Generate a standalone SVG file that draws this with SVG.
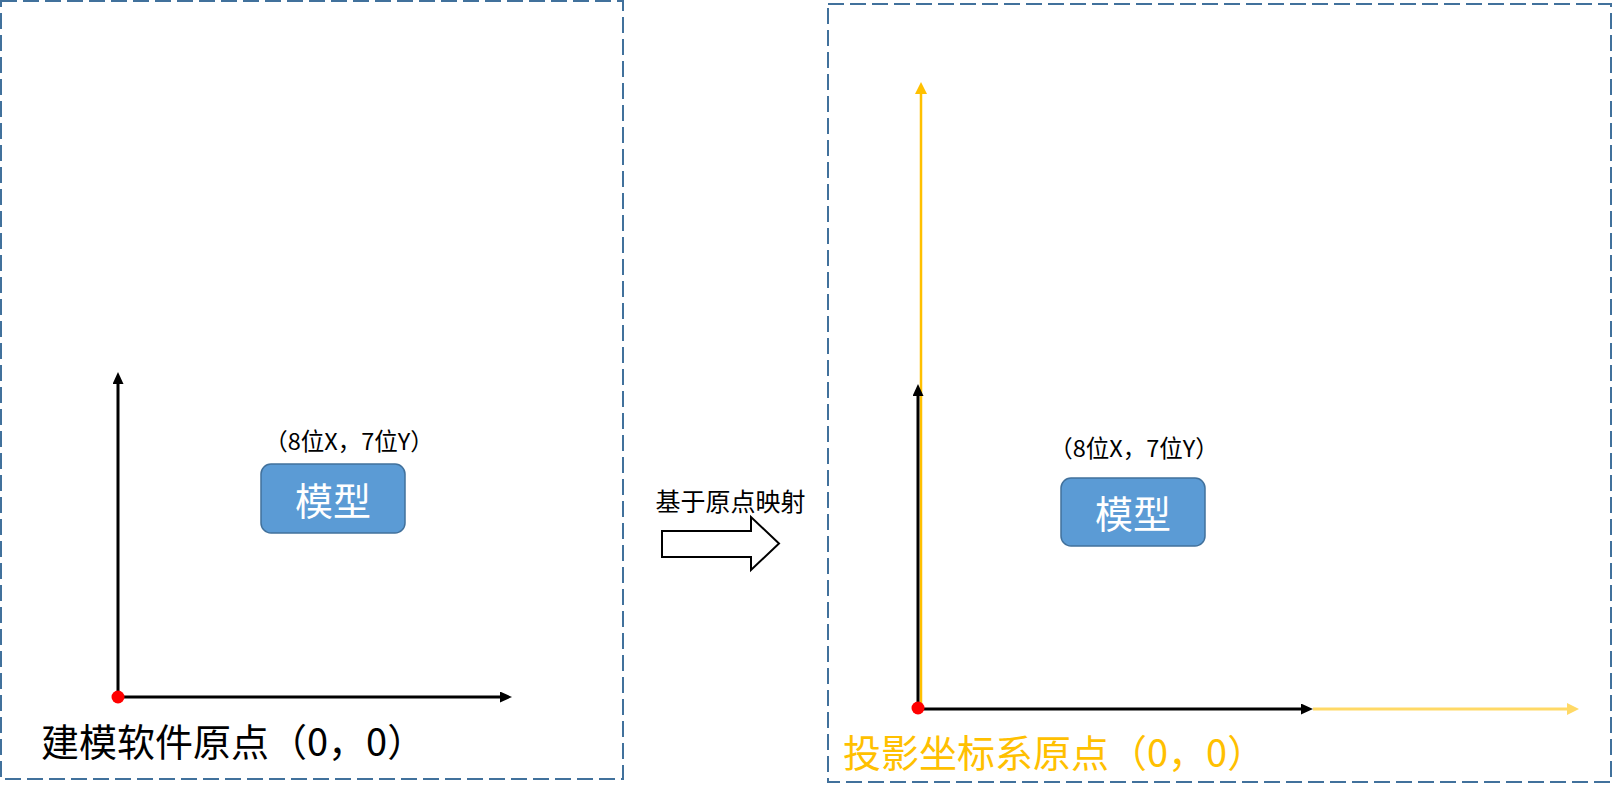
<svg xmlns="http://www.w3.org/2000/svg" width="1614" height="798" viewBox="0 0 1614 798">
<defs>
<style>
.frame{fill:none;stroke:#41719C;stroke-width:2;stroke-dasharray:16 6}
.box{fill:#5B9BD5;stroke:#41719C;stroke-width:1.5}
.cjk{font-family:"Noto Sans CJK SC","Noto Sans",sans-serif}
.lbl{font-size:23.5px;fill:#000;text-anchor:middle}
.mt{font-size:38px;fill:#fff;text-anchor:middle}
.ax{stroke:#000;stroke-width:3;fill:none}
.axy{stroke:#FFC000;stroke-width:2.5;fill:none}
.axly{stroke:#FFD966;stroke-width:3;fill:none}
.dot{fill:#FF0000}
</style>
<marker id="ab" markerUnits="userSpaceOnUse" markerWidth="12" markerHeight="11" refX="4" refY="5.5" orient="auto"><path d="M0,0 L12,5.5 L0,11 z" fill="#000"/></marker>
<marker id="ay" markerUnits="userSpaceOnUse" markerWidth="12" markerHeight="12" refX="4" refY="6" orient="auto"><path d="M0,0 L12,6 L0,12 z" fill="#FFC000"/></marker>
<marker id="aly" markerUnits="userSpaceOnUse" markerWidth="12" markerHeight="12" refX="4" refY="6" orient="auto"><path d="M0,0 L12,6 L0,12 z" fill="#FFD966"/></marker>
</defs>
<rect width="1614" height="798" fill="#fff"/>
<g id="left-frame"><rect class="frame" x="1" y="1" width="622" height="778"/></g>
<g id="right-frame"><rect class="frame" x="828" y="4" width="783" height="778"/></g>
<g id="connectors">
<line class="ax" x1="118" y1="697" x2="118" y2="380" marker-end="url(#ab)"/>
<line class="ax" x1="118" y1="697" x2="504" y2="697" marker-end="url(#ab)"/>
<line class="axy" x1="921" y1="708" x2="921" y2="90" marker-end="url(#ay)"/>
<line class="ax" x1="918" y1="708" x2="918" y2="392" marker-end="url(#ab)"/>
<line class="axly" x1="1313" y1="709" x2="1571" y2="709" marker-end="url(#aly)"/>
<line class="ax" x1="918" y1="709" x2="1305" y2="709" marker-end="url(#ab)"/>
<path id="map-arrow" d="M662,531 L751,531 L751,517 L779,543.5 L751,570 L751,557 L662,557 z" fill="#fff" stroke="#000" stroke-width="2"/>
<text class="cjk" x="730.5" y="511" font-size="25" text-anchor="middle" fill="#000">基于原点映射</text>
</g>
<g id="left-origin"><circle class="dot" cx="118" cy="697" r="6.5"/><text class="cjk" x="41" y="756" font-size="38" fill="#000">建模软件原点（0，0）</text></g>
<g id="left-model"><rect class="box" x="261" y="464" width="144" height="69" rx="10"/><text class="cjk mt" x="333" y="515">模型</text><text class="cjk lbl" x="349" y="450">（8位X，7位Y）</text></g>
<g id="right-origin"><circle class="dot" cx="918" cy="708" r="6.5"/><text class="cjk" x="843" y="767" font-size="38" fill="#FFC000">投影坐标系原点（0，0）</text></g>
<g id="right-model"><rect class="box" x="1061" y="478" width="144" height="68" rx="10"/><text class="cjk mt" x="1133" y="528">模型</text><text class="cjk lbl" x="1134" y="457">（8位X，7位Y）</text></g>
</svg>
